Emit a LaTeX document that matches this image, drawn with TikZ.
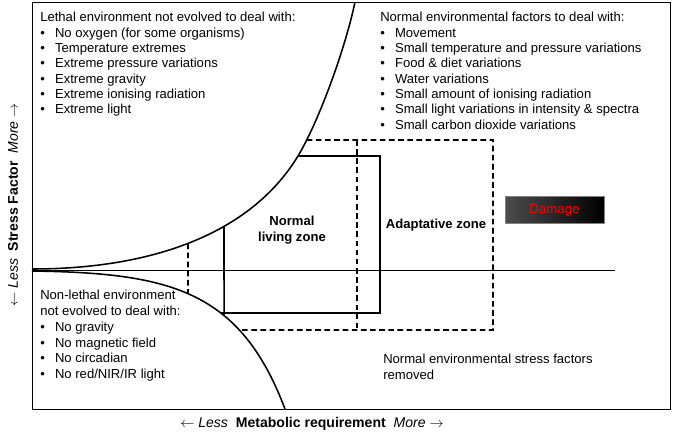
\documentclass[tikz,border=0pt]{standalone}
\usepackage{fontspec}
\setmainfont{Liberation Sans}
\usetikzlibrary{positioning,intersections}
\tikzset{
  lst/.style={anchor=north west,align=left,inner sep=0pt,font=\fontsize{9.3}{10.9}\selectfont},
  zone/.style={font=\fontsize{9.3}{11.3}\selectfont\bfseries,align=center},
  bnd/.style={line width=1.1pt},
  dbnd/.style={line width=1.1pt,dash pattern=on 4pt off 2.5pt},
}
\newcommand{\bul}{\makebox[10.5pt][l]{\textbullet}}
\begin{document}
\begin{tikzpicture}[x=0.025cm,y=-0.025cm]
    \useasboundingbox (0,0) rectangle (685,433);
    % frame and axis
    \draw[line width=0.5pt] (32,2) rectangle (670,409);
    \draw[line width=0.5pt] (32,270) -- (615,270);
    % boundary curves
    \draw[bnd,name path=up] (32,269) .. controls (150,269) and (250,235) .. (298,156)
        .. controls (318,123) and (345,50) .. (355,2);
    \draw[bnd,name path=low] (32,271) .. controls (170,273) and (240,290) .. (285,409);
    % cut lines for the curves
    \path[name path=v1] (188,0) -- (188,433);
    \path[name path=v2] (224,0) -- (224,433);
    \path[name path=h1] (32,156) -- (670,156);
    \path[name path=h2] (32,140) -- (670,140);
    \path[name path=h3] (32,313) -- (670,313);
    \path[name path=h4] (32,330) -- (670,330);
    \path[name intersections={of=up and v1,by=a1}];
    \path[name intersections={of=low and v1,by=b1}];
    \path[name intersections={of=up and v2,by=a2}];
    \path[name intersections={of=low and v2,by=b2}];
    \path[name intersections={of=up and h1,by=c1}];
    \path[name intersections={of=up and h2,by=c2}];
    \path[name intersections={of=low and h3,by=c3}];
    \path[name intersections={of=low and h4,by=c4}];
    % normal living zone
    \draw[bnd] (c1) -- (380,156) -- (380,313) -- (c3);
    \draw[bnd] (a2) -- (b2);
    % adaptative zone
    \draw[dbnd] (c2) -- (493,140) -- (493,330) -- (c4);
    \draw[dbnd] (357,140) -- (357,330);
    \draw[dbnd] (a1) -- (b1);
    % texts
    \node[lst] (lethal) at (40,12) {Lethal environment not evolved to deal with:\\
      \bul No oxygen (for some organisms)\\
      \bul Temperature extremes\\
      \bul Extreme pressure variations\\
      \bul Extreme gravity\\
      \bul Extreme ionising radiation\\
      \bul Extreme light};
    \node[lst] (normal) at (380,12) {Normal environmental factors to deal with:\\
      \bul Movement\\
      \bul Small temperature and pressure variations\\
      \bul Food \& diet variations\\
      \bul Water variations\\
      \bul Small amount of ionising radiation\\
      \bul Small light variations in intensity \& spectra\\
      \bul Small carbon dioxide variations};
    \node[lst,font=\fontsize{9.3}{11.2}\selectfont] (nonlethal) at (40,290) {Non-lethal environment\\
      not evolved to deal with:\\
      \bul No gravity\\
      \bul No magnetic field\\
      \bul No circadian\\
      \bul No red/NIR/IR light};
    \node[lst,font=\fontsize{9.3}{11.4}\selectfont] (removed) at (383,354) {Normal environmental stress factors\\removed};
    \node[zone] (living) at (292,230) {Normal\\living zone};
    \node[zone] (adapt) at (436,225) {Adaptative zone};
    % damage box
    \shade[left color=black!70,right color=black,draw=black!50] (505,196) rectangle (604,223);
    \node[text=red,font=\fontsize{9.5}{11}\selectfont] (damage) at (554.5,210) {Damage};
    % axis labels
    \node[font=\fontsize{10}{12}\selectfont] (xlab) at (312,424)
      {$\leftarrow$ \textit{Less}\ \ \textbf{Metabolic requirement}\ \ \textit{More} $\rightarrow$};
    \node[font=\fontsize{10}{12}\selectfont,rotate=90] (ylab) at (13,205)
      {$\leftarrow$ \textit{Less}\ \ \textbf{Stress Factor}\ \ \textit{More} $\rightarrow$};
\end{tikzpicture}
\end{document}
